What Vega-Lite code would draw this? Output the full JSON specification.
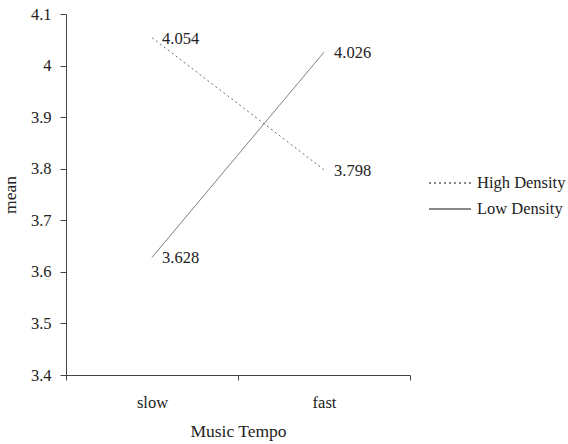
{
  "$schema": "https://vega.github.io/schema/vega-lite/v6.json",
  "width": 344,
  "height": 361,
  "autosize": {"type": "none"},
  "padding": {"left": 66, "top": 14, "right": 158, "bottom": 69},
  "background": "white",
  "config": {
    "view": {"stroke": null},
    "font": "Liberation Serif",
    "axis": {"labelFont": "Liberation Serif", "titleFont": "Liberation Serif", "labelColor": "#222", "titleColor": "#222", "domainColor": "#444", "tickColor": "#444", "labelFontSize": 16.5, "titleFontSize": 17.5, "titleFontWeight": "normal", "grid": false},
    "legend": {"labelFont": "Liberation Serif", "labelFontSize": 16.5, "labelColor": "#222"}
  },
  "data": {
    "values": [
      {"tempo": "slow", "density": "High Density", "mean": 4.054},
      {"tempo": "fast", "density": "High Density", "mean": 3.798},
      {"tempo": "slow", "density": "Low Density", "mean": 3.628},
      {"tempo": "fast", "density": "Low Density", "mean": 4.026}
    ]
  },
  "encoding": {
    "x": {
      "field": "tempo", "type": "nominal", "sort": ["slow", "fast"],
      "scale": {"type": "band", "paddingInner": 0, "paddingOuter": 0},
      "axis": {"title": "Music Tempo", "labelAngle": 0, "tickBand": "extent", "tickSize": 5, "labelPadding": 14, "titlePadding": 12}
    },
    "y": {
      "field": "mean", "type": "quantitative",
      "scale": {"domain": [3.4, 4.1], "nice": false, "zero": false},
      "axis": {"title": "mean", "values": [3.4, 3.5, 3.6, 3.7, 3.8, 3.9, 4.0, 4.1], "format": "~g", "tickSize": 6, "labelPadding": 9, "titlePadding": 11}
    }
  },
  "layer": [
    {
      "mark": {"type": "line", "color": "#6a6a6a", "strokeWidth": 1},
      "encoding": {
        "detail": {"field": "density"},
        "strokeDash": {
          "field": "density", "type": "nominal",
          "scale": {"domain": ["High Density", "Low Density"], "range": [[2, 3], [1, 0]]},
          "legend": {"title": null, "orient": "none", "legendX": 373, "legendY": 158, "symbolType": "M-2.1,0H2.1", "symbolSize": 400, "symbolStrokeColor": "#111", "symbolStrokeWidth": 1.2, "labelOffset": 16, "rowPadding": 6}
        }
      }
    },
    {
      "mark": {"type": "text", "align": "left", "baseline": "middle", "dx": 10, "dy": 1, "fontSize": 16.5, "color": "#222", "font": "Liberation Serif"},
      "encoding": {
        "text": {"field": "mean", "type": "quantitative", "format": ".3f"}
      }
    }
  ]
}
